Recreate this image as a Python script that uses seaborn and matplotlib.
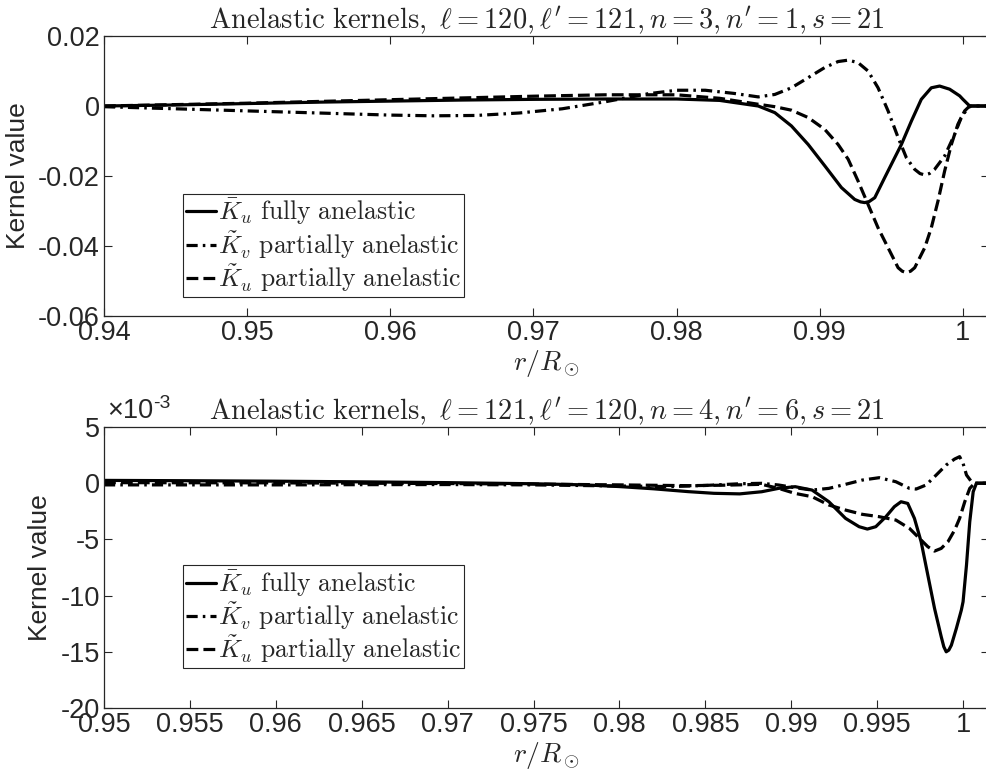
import numpy as np
import pandas as pd
import seaborn as sns
import matplotlib.pyplot as plt
from matplotlib.ticker import FuncFormatter

# ---- top panel: l=120, l'=121, n=3, n'=1 ----
r1_full = [0.940, 0.945, 0.950, 0.955, 0.960, 0.965, 0.970, 0.975, 0.980, 0.983, 0.9857,
           0.98686, 0.98802, 0.98919, 0.99035, 0.99151, 0.99244, 0.99285, 0.99314, 0.99345,
           0.99384, 0.99453, 0.99523, 0.99570, 0.99640, 0.99709, 0.99779, 0.99837, 0.99907,
           0.99977, 1.0000, 1.00047, 1.0019]
k1_full = [0.0000, 0.0003, 0.0007, 0.0011, 0.0014, 0.0017, 0.0019, 0.0020, 0.0020, 0.0016, 0.0000,
           -0.0019, -0.0057, -0.0110, -0.0171, -0.0233, -0.0267, -0.0274, -0.0276, -0.0273,
           -0.0262, -0.0205, -0.0148, -0.0110, -0.0043, 0.0019, 0.0052, 0.0057, 0.0048,
           0.0029, 0.0019, 0.0000, 0.0000]

r1_part_v = [0.940, 0.945, 0.950, 0.955, 0.960, 0.963, 0.966, 0.969, 0.972, 0.975, 0.978, 0.980,
             0.982, 0.984, 0.9857, 0.98686, 0.98802, 0.98919, 0.99035, 0.99128, 0.99198, 0.99267,
             0.99337, 0.99407, 0.99477, 0.99547, 0.99605, 0.99663, 0.99700, 0.99733, 0.99766,
             0.99802, 0.99872, 0.99942, 0.99988, 1.00035, 1.00058, 1.0019]
k1_part_v = [-0.0002, -0.0008, -0.0014, -0.0020, -0.0026, -0.0028, -0.0027, -0.0020, -0.0008, 0.0012,
             0.0035, 0.0045, 0.0045, 0.0036, 0.0026, 0.0033, 0.0052, 0.0081, 0.0110, 0.0127, 0.0131,
             0.0124, 0.0100, 0.0052, -0.0014, -0.0090, -0.0148, -0.0181, -0.0193, -0.0197, -0.0193,
             -0.0181, -0.0143, -0.0081, -0.0033, -0.0005, 0.0000, 0.0000]

r1_part_u = [0.940, 0.945, 0.950, 0.955, 0.960, 0.965, 0.970, 0.975, 0.980, 0.983, 0.9857,
             0.98686, 0.98802, 0.98919, 0.99035, 0.99128, 0.99198, 0.99267, 0.99337, 0.99407,
             0.99477, 0.99547, 0.99576, 0.99605, 0.99634, 0.99663, 0.99733, 0.99779, 0.99826,
             0.99872, 0.99919, 0.99965, 1.00012, 1.00047, 1.0019]
k1_part_u = [0.0000, 0.0004, 0.0008, 0.0013, 0.0018, 0.0023, 0.0028, 0.0032, 0.0032, 0.0022, 0.0005,
             -0.0002, -0.0012, -0.0033, -0.0067, -0.0110, -0.0152, -0.0214, -0.0281, -0.0348,
             -0.0405, -0.0462, -0.0472, -0.0476, -0.0472, -0.0462, -0.0405, -0.0348, -0.0271,
             -0.0186, -0.0110, -0.0052, -0.0014, 0.0000, 0.0000]

# ---- bottom panel: l=121, l'=120, n=4, n'=6 (values in units of 1e-3) ----
r2_full = [0.950, 0.955, 0.960, 0.965, 0.970, 0.975, 0.978, 0.980, 0.982, 0.984, 0.9855, 0.987,
           0.98828, 0.98926, 0.99023, 0.99121, 0.99219, 0.99316, 0.99395, 0.99443, 0.99492,
           0.99551, 0.99600, 0.99639, 0.99678, 0.99717, 0.99756, 0.99795, 0.99834, 0.99873,
           0.99888, 0.99902, 0.99917, 0.99932, 0.99961, 0.99990, 1.0000, 1.00020, 1.00039,
           1.00059, 1.00078, 1.0017]
k2_full = [0.25, 0.22, 0.18, 0.12, 0.05, -0.05, -0.15, -0.30, -0.50, -0.75, -0.90, -0.95,
           -0.76, -0.46, -0.31, -0.61, -1.65, -3.13, -3.87, -4.08, -3.87,
           -2.98, -2.09, -1.65, -1.80, -3.13, -5.21, -8.18, -11.14, -13.66,
           -14.55, -15.0, -14.85, -14.41, -12.92, -11.29, -10.55, -7.28, -3.43,
           -0.76, 0.0, 0.0]

r2_part_v = [0.950, 0.955, 0.960, 0.965, 0.970, 0.975, 0.980, 0.983, 0.985, 0.987, 0.98828,
             0.98926, 0.99023, 0.99121, 0.99219, 0.99316, 0.99414, 0.99512, 0.99609, 0.99688,
             0.99727, 0.99785, 0.99844, 0.99902, 0.99951, 0.99980, 1.0000, 1.00020, 1.00049,
             1.00078, 1.0017]
k2_part_v = [-0.15, -0.15, -0.15, -0.13, -0.12, -0.15, -0.25, -0.30, -0.20, -0.05, -0.01,
             -0.16, -0.40, -0.61, -0.46, -0.10, 0.28, 0.49, 0.13, -0.46,
             -0.52, -0.16, 0.73, 1.62, 2.15, 2.36, 1.77, 0.73, 0.13,
             0.0, 0.0]

r2_part_u = [0.950, 0.955, 0.960, 0.965, 0.970, 0.975, 0.980, 0.984, 0.986, 0.98828, 0.98926,
             0.99023, 0.99121, 0.99219, 0.99316, 0.99414, 0.99512, 0.99609, 0.99688, 0.99746,
             0.99795, 0.99834, 0.99873, 0.99912, 0.99951, 0.99980, 1.00010, 1.00039, 1.00068,
             1.0017]
k2_part_u = [0.05, 0.04, 0.03, 0.0, -0.03, -0.08, -0.15, -0.22, -0.18, -0.10, -0.46,
             -0.91, -1.20, -1.94, -2.39, -2.77, -2.98, -3.28, -4.02, -4.91,
             -5.65, -6.04, -5.80, -5.21, -4.17, -3.13, -1.65, -0.46, 0.0,
             0.0]

labels = [r'$\bar{K}_u\ \mathrm{fully\ anelastic}$',
          r'$\tilde{K}_v\ \mathrm{partially\ anelastic}$',
          r'$\tilde{K}_u\ \mathrm{partially\ anelastic}$']
titles = [r"$\mathrm{Anelastic\ kernels,}\ \ell = 120, \ell' = 121, n = 3, n' = 1, s = 21$",
          r"$\mathrm{Anelastic\ kernels,}\ \ell = 121, \ell' = 120, n = 4, n' = 6, s = 21$"]

xticks1 = [0.94, 0.95, 0.96, 0.97, 0.98, 0.99, 1.0]
yticks1 = [0.02, 0, -0.02, -0.04, -0.06]
xticks2 = [0.95, 0.955, 0.96, 0.965, 0.97, 0.975, 0.98, 0.985, 0.99, 0.995, 1.0]
yticks2 = [5e-3, 0, -5e-3, -10e-3, -15e-3, -20e-3]

sns.set_style('ticks')
plt.rcParams['font.family'] = ['Liberation Sans', 'DejaVu Sans']
plt.rcParams['mathtext.fontset'] = 'cm'
plt.rcParams['axes.unicode_minus'] = False

ink = '#262626'
styles = ['-', (0, (3.5, 1.6, 0.8, 1.6)), '--']

# axes run a little past the right edge (figure is cropped there)
fig = plt.figure(figsize=(9.86, 7.76), dpi=100)
ax1 = fig.add_axes([104 / 986, 1 - 316 / 776, 885 / 986, 280 / 776])
ax2 = fig.add_axes([104 / 986, 1 - 708 / 776, 885 / 986, 281 / 776])

top = [(r1_full, k1_full), (r1_part_v, k1_part_v), (r1_part_u, k1_part_u)]
bot = [(r2_full, np.array(k2_full) * 1e-3), (r2_part_v, np.array(k2_part_v) * 1e-3),
       (r2_part_u, np.array(k2_part_u) * 1e-3)]

for ax, series in [(ax1, top), (ax2, bot)]:
    for (rr, kk), lab, ls in zip(series, labels, styles):
        df = pd.DataFrame({'r': rr, 'k': kk})
        sns.lineplot(data=df, x='r', y='k', ax=ax, color='black', lw=2.3,
                     linestyle=ls, label=lab, sort=False, estimator=None)

ax1.set_xlim(0.94, 1.00182)
ax1.set_ylim(-0.06, 0.02)
ax1.set_xticks(xticks1)
ax1.set_yticks(yticks1)
ax1.yaxis.set_major_formatter(FuncFormatter(lambda v, p: f'{v:g}'))

ax2.set_xlim(0.95, 1.00151)
ax2.set_ylim(-0.02, 0.005)
ax2.set_xticks(xticks2)
ax2.set_yticks(yticks2)
ax2.yaxis.set_major_formatter(FuncFormatter(lambda v, p: f'{v * 1e3:g}'))

leg_y = [0.068, 0.142]
for ax, title, ly in zip([ax1, ax2], titles, leg_y):
    ax.xaxis.set_major_formatter(FuncFormatter(lambda v, p: f'{v:g}'))
    ax.tick_params(direction='in', top=True, right=True, length=6, width=0.8,
                   labelsize=19.5, color=ink, labelcolor=ink, pad=3)
    for sp in ax.spines.values():
        sp.set_color(ink)
        sp.set_linewidth(0.9)
    ax.set_xlabel(r'$r/R_\odot$', fontsize=20, labelpad=1)
    ax.set_ylabel('Kernel value', fontsize=19, color=ink, labelpad=6)
    ax.set_title(title, fontsize=20.5, pad=5)
    leg = ax.legend(loc='lower left', bbox_to_anchor=(0.0893, ly), borderaxespad=0,
                    fontsize=18.5, handlelength=1.15, handletextpad=0.1, labelspacing=0.05,
                    borderpad=0.12, fancybox=False, framealpha=1)
    leg.get_frame().set_edgecolor(ink)
    leg.get_frame().set_linewidth(0.8)

# MATLAB-style exponent label
t = ax2.text(0.003, 1.01, '×10', transform=ax2.transAxes, ha='left', va='bottom',
             fontsize=19.5, color=ink)
ax2.annotate('-3', xy=(1, 0.8), xycoords=t, ha='left', va='center',
             fontsize=14, color=ink)

fig.savefig('out.png', dpi=100)
